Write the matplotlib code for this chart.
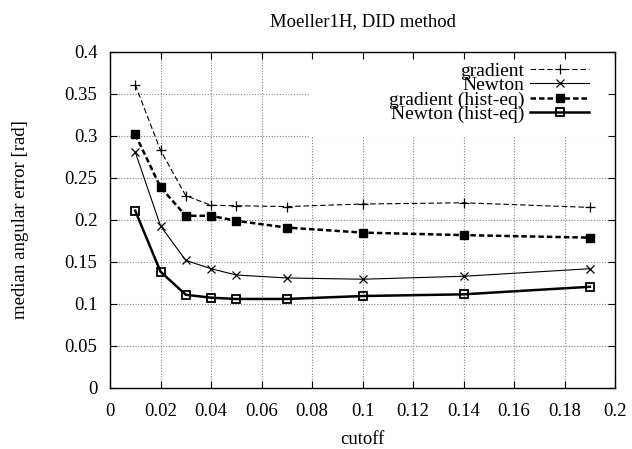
import matplotlib
matplotlib.use("Agg")
import matplotlib.pyplot as plt
from matplotlib.patches import Rectangle

cutoff = [0.01, 0.02, 0.03, 0.04, 0.05, 0.07, 0.10, 0.14, 0.19]
gradient = [0.361, 0.283, 0.229, 0.2175, 0.217, 0.216, 0.219, 0.2205, 0.215]
newton = [0.281, 0.193, 0.152, 0.142, 0.1345, 0.131, 0.1295, 0.133, 0.142]
gradient_heq = [0.302, 0.239, 0.205, 0.205, 0.199, 0.191, 0.185, 0.182, 0.179]
newton_heq = [0.211, 0.1385, 0.111, 0.1075, 0.106, 0.106, 0.1095, 0.1115, 0.1205]

xticks = [0, 0.02, 0.04, 0.06, 0.08, 0.1, 0.12, 0.14, 0.16, 0.18, 0.2]
xticklabels = ["0", "0.02", "0.04", "0.06", "0.08", "0.1", "0.12", "0.14", "0.16", "0.18", "0.2"]
yticks = [0, 0.05, 0.1, 0.15, 0.2, 0.25, 0.3, 0.35, 0.4]
yticklabels = ["0", "0.05", "0.1", "0.15", "0.2", "0.25", "0.3", "0.35", "0.4"]

plt.rcParams['font.family'] = ['Liberation Serif', 'DejaVu Serif']
FS = 13.5

fig = plt.figure(figsize=(6.32, 4.49), dpi=100)
ax = fig.add_axes([110/632, 1-388/449, 505/632, 336/449])
ax.set_xlim(0, 0.2)
ax.set_ylim(0, 0.4)

# grid drawn manually
gkw = dict(color='#808080', lw=0.8, ls=(0, (1, 1.5)), zorder=1)
for x in xticks[1:-1]:
    ax.axvline(x, **gkw)
for y in yticks[1:-1]:
    ax.axhline(y, **gkw)

# opaque key area
ax.add_patch(Rectangle((0.396, 0.747), 0.604, 0.253, transform=ax.transAxes,
                       facecolor='white', edgecolor='none', zorder=1.2))

ax.plot(cutoff, gradient, color='black', lw=0.8, dashes=(5, 2.5), marker='+',
        ms=7, mew=0.9, label='gradient', zorder=3)
ax.plot(cutoff, newton, color='black', lw=0.8, ls='-', marker='x',
        ms=6, mew=0.9, label='Newton', zorder=3)
ax.plot(cutoff, gradient_heq, color='black', lw=1.8, dashes=(2.2, 1.2), marker='s',
        ms=5.5, mew=1, label='gradient (hist-eq)', zorder=3)
ax.plot(cutoff, newton_heq, color='black', lw=1.8, ls='-', marker='s',
        ms=6, mew=1.3, mfc='none', label='Newton (hist-eq)', zorder=3)

ax.set_xticks(xticks)
ax.set_xticklabels(xticklabels)
ax.set_yticks(yticks)
ax.set_yticklabels(yticklabels)
ax.tick_params(direction='in', length=5, width=0.8, top=True, right=True,
               labelsize=FS, pad=0)
ax.tick_params(axis='x', pad=10.5)
ax.tick_params(axis='y', pad=9)
for s in ax.spines.values():
    s.set_linewidth(1.0)

ax.set_title('Moeller1H, DID method', fontsize=FS, pad=18.5)
ax.set_xlabel('cutoff', fontsize=FS, labelpad=8)
ax.set_ylabel('median angular error [rad]', fontsize=FS, labelpad=26)

leg = ax.legend(loc='upper right', bbox_to_anchor=(0.975, 1.01), frameon=False,
                markerfirst=False, fontsize=14, handlelength=3.0, handletextpad=0.3,
                labelspacing=-0.17, borderaxespad=0.3)
for t in leg.get_texts():
    t.set_ha('right')
leg._legend_box.align = 'right'
leg.set_zorder(4)

fig.savefig('out.png', dpi=100)
